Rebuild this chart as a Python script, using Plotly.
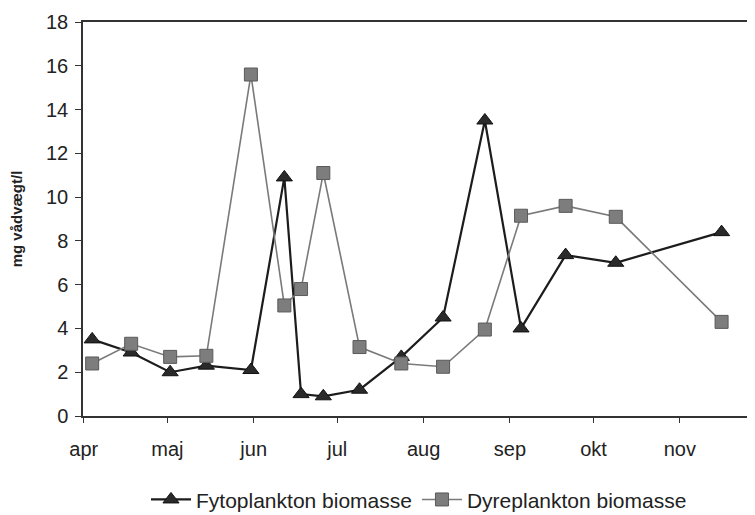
import plotly.graph_objects as go

dates = ["2001-04-04", "2001-04-18", "2001-05-02", "2001-05-15", "2001-05-31",
         "2001-06-12", "2001-06-18", "2001-06-26", "2001-07-09", "2001-07-24",
         "2001-08-08", "2001-08-23", "2001-09-05", "2001-09-21", "2001-10-09",
         "2001-11-16"]
fyto = [3.5, 2.9, 2.0, 2.3, 2.1, 10.9, 1.0, 0.9, 1.2, 2.7, 4.5, 13.5, 4.0, 7.35, 7.0, 8.4]
dyre = [2.4, 3.3, 2.7, 2.75, 15.6, 5.05, 5.8, 11.1, 3.15, 2.4, 2.25, 3.95, 9.15, 9.6, 9.1, 4.3]

month_ticks = ["2001-04-01", "2001-05-01", "2001-06-01", "2001-07-01",
               "2001-08-01", "2001-09-01", "2001-10-01", "2001-11-01"]
month_labels = ["apr", "maj", "jun", "jul", "aug", "sep", "okt", "nov"]

series_names = ["Fytoplankton biomasse", "Dyreplankton biomasse"]

fig = go.Figure()
fig.add_trace(go.Scatter(
    x=dates, y=fyto, name=series_names[0], mode="lines+markers",
    line=dict(color="#1c1c1c", width=2.2),
    marker=dict(symbol="triangle-up", size=14, color="#2a2a2a",
                line=dict(color="#111111", width=1)),
))
fig.add_trace(go.Scatter(
    x=dates, y=dyre, name=series_names[1], mode="lines+markers",
    line=dict(color="#7a7a7a", width=1.6),
    marker=dict(symbol="square", size=13, color="#7d7d7d",
                line=dict(color="#5a5a5a", width=1)),
))

font_family = "Liberation Sans, Arial, sans-serif"

# page body has an 8px margin, so the figure is 8px smaller than the window
fig.update_layout(
    width=747, height=507,
    margin=dict(l=75, r=0, t=14, b=99),
    paper_bgcolor="white", plot_bgcolor="white",
    font=dict(family=font_family, size=20, color="#222222"),
    showlegend=True,
    legend=dict(orientation="h", x=0.5, xanchor="center",
                yref="container", y=0.03, yanchor="middle",
                font=dict(size=21, color="#222222"), itemwidth=40,
                bgcolor="rgba(0,0,0,0)"),
    xaxis=dict(
        type="date", automargin=False,
        range=["2001-03-31 17:00", "2001-11-28"],
        tickvals=month_ticks, ticktext=month_labels,
        showgrid=False, zeroline=False,
        showline=True, linecolor="#333333", linewidth=1.5, mirror=True,
        ticks="outside", ticklen=5, tickcolor="#333333",
        ticklabelstandoff=9,
        tickfont=dict(size=20, color="#222222"),
    ),
    yaxis=dict(
        range=[0, 18], tickvals=list(range(0, 19, 2)), automargin=False,
        showgrid=False, zeroline=False,
        showline=True, linecolor="#333333", linewidth=1.5,
        ticks="outside", ticklen=6, tickcolor="#333333",
        ticklabelstandoff=3,
        tickfont=dict(size=20, color="#222222"),
        title=dict(text="<b>mg vådvægt/l</b>", font=dict(size=15, color="#222222"), standoff=29),
    ),
)

fig.write_html("out.html")
